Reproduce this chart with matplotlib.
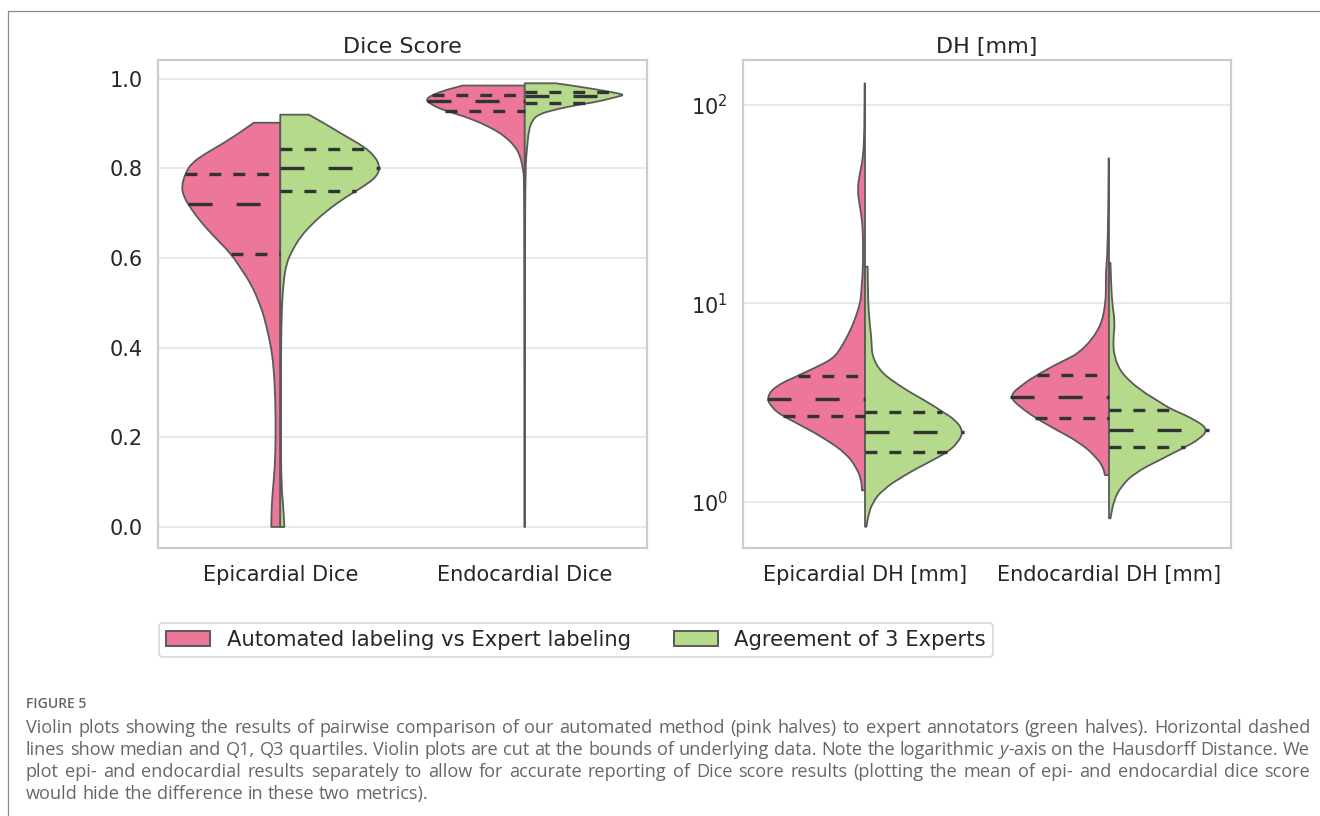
import numpy as np
import matplotlib
matplotlib.use("Agg")
import matplotlib.pyplot as plt
from matplotlib.patches import PathPatch, Patch
from matplotlib.path import Path
from matplotlib.lines import Line2D
from matplotlib.ticker import NullFormatter, LogLocator

plt.rcParams["lines.scale_dashes"] = False
plt.rcParams["font.family"] = ["DejaVu Sans"]

W, H, DPI = 1320, 816, 100

# ---------------- data ----------------
dice_categories = ["Epicardial Dice", "Endocardial Dice"]
dh_categories = ["Epicardial DH [mm]", "Endocardial DH [mm]"]
series_names = ["Automated labeling vs Expert labeling", "Agreement of 3 Experts"]
panel_titles = ["Dice Score", "DH [mm]"]

# violin half profiles: values and relative density (1 = widest)
dice_epi_auto_y = [0.000, 0.045, 0.090, 0.135, 0.200, 0.283, 0.358, 0.400, 0.432, 0.469, 0.484,
                   0.507, 0.529, 0.558, 0.574, 0.609, 0.648, 0.678, 0.708, 0.737, 0.761, 0.790,
                   0.812, 0.834, 0.864, 0.902]
dice_epi_auto_d = [0.090, 0.087, 0.071, 0.054, 0.046, 0.049, 0.066, 0.092, 0.122, 0.163, 0.184,
                   0.224, 0.265, 0.337, 0.388, 0.490, 0.663, 0.786, 0.888, 0.969, 0.990, 0.949,
                   0.888, 0.745, 0.510, 0.265]
dice_epi_exp_y = [0.000, 0.045, 0.090, 0.200, 0.400, 0.484, 0.544, 0.588, 0.618, 0.648, 0.678,
                  0.708, 0.737, 0.760, 0.782, 0.804, 0.827, 0.849, 0.871, 0.901, 0.920]
dice_epi_exp_d = [0.041, 0.031, 0.012, 0.006, 0.008, 0.015, 0.031, 0.061, 0.122, 0.204, 0.327,
                  0.480, 0.663, 0.837, 0.969, 1.000, 0.949, 0.837, 0.663, 0.439, 0.286]
dice_endo_auto_y = [0.000, 0.300, 0.600, 0.775, 0.797, 0.827, 0.849, 0.871, 0.886, 0.901, 0.916,
                    0.931, 0.942, 0.953, 0.964, 0.975, 0.985]
dice_endo_auto_d = [0.002, 0.002, 0.003, 0.005, 0.016, 0.044, 0.095, 0.197, 0.299, 0.435, 0.602,
                    0.827, 0.929, 0.996, 0.929, 0.792, 0.622]
dice_endo_exp_y = [0.000, 0.300, 0.600, 0.800, 0.849, 0.886, 0.908, 0.921, 0.931, 0.942, 0.949,
                   0.960, 0.964, 0.968, 0.975, 0.983, 0.990]
dice_endo_exp_d = [0.002, 0.002, 0.003, 0.006, 0.024, 0.041, 0.076, 0.143, 0.296, 0.531, 0.735,
                   0.926, 1.000, 0.926, 0.755, 0.531, 0.313]

dh_epi_auto_y = [1.14, 1.285, 1.50, 1.75, 2.05, 2.39, 2.70, 2.95, 3.32, 3.80, 4.31, 4.89, 5.38,
                 6.53, 7.95, 10.0, 11.7, 14.7, 20.8, 25.4, 30.6, 37.2, 45.4, 54.7, 74.8, 128.6]
dh_epi_auto_d = [0.031, 0.036, 0.092, 0.194, 0.388, 0.622, 0.827, 0.929, 0.990, 0.908, 0.673,
                 0.439, 0.296, 0.194, 0.112, 0.046, 0.036, 0.020, 0.020, 0.026, 0.051, 0.077,
                 0.051, 0.017, 0.006, 0.004]
dh_epi_exp_y = [0.747, 0.839, 0.98, 1.14, 1.34, 1.56, 1.77, 1.97, 2.25, 2.58, 2.84, 3.01, 3.65,
                4.44, 5.38, 6.53, 7.95, 10.0, 15.3]
dh_epi_exp_d = [0.015, 0.031, 0.071, 0.173, 0.378, 0.622, 0.827, 0.929, 0.990, 0.908, 0.776,
                0.704, 0.408, 0.163, 0.071, 0.066, 0.046, 0.031, 0.026]
dh_endo_auto_y = [1.36, 1.50, 1.68, 1.97, 2.30, 2.65, 3.01, 3.38, 3.80, 4.44, 5.18, 5.60, 6.53,
                  7.93, 10.0, 11.7, 14.7, 17.5, 33.0, 53.8]
dh_endo_auto_d = [0.041, 0.061, 0.133, 0.286, 0.531, 0.745, 0.898, 1.000, 0.898, 0.694, 0.439,
                  0.306, 0.173, 0.071, 0.036, 0.031, 0.031, 0.015, 0.006, 0.004]
dh_endo_exp_y = [0.824, 1.02, 1.19, 1.39, 1.62, 1.88, 2.05, 2.30, 2.58, 2.90, 3.01, 3.65, 4.44,
                 5.38, 6.53, 7.95, 10.0, 13.1, 16.0]
dh_endo_exp_d = [0.015, 0.051, 0.122, 0.255, 0.510, 0.765, 0.898, 1.000, 0.867, 0.643, 0.582,
                 0.306, 0.122, 0.051, 0.041, 0.061, 0.031, 0.020, 0.015]

# quartiles (Q1, median, Q3)
dice_epi_auto_q = [0.609, 0.721, 0.788]
dice_epi_exp_q = [0.750, 0.801, 0.844]
dice_endo_auto_q = [0.929, 0.950, 0.964]
dice_endo_exp_q = [0.946, 0.961, 0.970]
dh_epi_auto_q = [2.69, 3.30, 4.31]
dh_epi_exp_q = [1.77, 2.25, 2.84]
dh_endo_auto_q = [2.65, 3.37, 4.34]
dh_endo_exp_q = [1.88, 2.30, 2.90]

caption_title = "FIGURE 5"
# words wrapped in _..._ are italic
caption_lines = [
    "Violin plots showing the results of pairwise comparison of our automated method (pink halves) to expert annotators (green halves). Horizontal dashed",
    "lines show median and Q1, Q3 quartiles. Violin plots are cut at the bounds of underlying data. Note the logarithmic _y_-axis on the Hausdorff Distance. We",
    "plot epi- and endocardial results separately to allow for accurate reporting of Dice score results (plotting the mean of epi- and endocardial dice score",
    "would hide the difference in these two metrics).",
]

# ---------------- style ----------------
PINK = "#ec7798"
GREEN = "#b5da8b"
EDGE = "#5a5a5a"
QCOL = "#333333"
GRID = "#e0e8f2"
SPINE = "#cccccc"
TXT = "#262626"
HALF = 0.408

fig = plt.figure(figsize=(W / DPI, H / DPI), dpi=DPI)
ax1 = fig.add_axes([158 / W, 1 - 548 / H, 489 / W, 488 / H])
ax2 = fig.add_axes([743 / W, 1 - 548 / H, 488 / W, 488 / H])


def outline_path(pos, xs, ys):
    """Closed half-violin path; the outline is rendered with quadratic smoothing."""
    pts = list(zip(xs, ys))
    verts = [(pos, ys[0]), pts[0]]
    codes = [Path.MOVETO, Path.LINETO]
    mids = [((pts[i][0] + pts[i + 1][0]) / 2, (pts[i][1] + pts[i + 1][1]) / 2)
            for i in range(len(pts) - 1)]
    verts.append(mids[0]); codes.append(Path.LINETO)
    for i in range(1, len(pts) - 1):
        verts += [pts[i], mids[i]]
        codes += [Path.CURVE3, Path.CURVE3]
    verts += [pts[-1], (pos, ys[-1]), (pos, ys[0])]
    codes += [Path.LINETO, Path.LINETO, Path.CLOSEPOLY]
    return Path(verts, codes)


def draw_half(ax, pos, side, ys, dens, qs, color, log=False):
    ys = np.asarray(ys, float)
    d = np.asarray(dens, float) * HALF
    xs = pos + side * d
    ax.add_patch(PathPatch(outline_path(pos, xs, ys), facecolor=color, edgecolor=EDGE,
                           lw=1.3, joinstyle="round", zorder=2))
    for i, q in enumerate(qs):
        if log:
            w = np.interp(np.log10(q), np.log10(ys), dens) * HALF
        else:
            w = np.interp(q, ys, dens) * HALF
        x0, x1 = sorted([pos, pos + side * w])
        ls = (0, (17.3, 17.3)) if i == 1 else (0, (8.6, 8.6))
        ax.plot([x0, x1], [q, q], color=QCOL, lw=2.4, ls=ls,
                dash_capstyle="butt", zorder=3)


draw_half(ax1, 0, -1, dice_epi_auto_y, dice_epi_auto_d, dice_epi_auto_q, PINK)
draw_half(ax1, 0, 1, dice_epi_exp_y, dice_epi_exp_d, dice_epi_exp_q, GREEN)
draw_half(ax1, 1, -1, dice_endo_auto_y, dice_endo_auto_d, dice_endo_auto_q, PINK)
draw_half(ax1, 1, 1, dice_endo_exp_y, dice_endo_exp_d, dice_endo_exp_q, GREEN)

ax2.set_yscale("log")
draw_half(ax2, 0, -1, dh_epi_auto_y, dh_epi_auto_d, dh_epi_auto_q, PINK, log=True)
draw_half(ax2, 0, 1, dh_epi_exp_y, dh_epi_exp_d, dh_epi_exp_q, GREEN, log=True)
draw_half(ax2, 1, -1, dh_endo_auto_y, dh_endo_auto_d, dh_endo_auto_q, PINK, log=True)
draw_half(ax2, 1, 1, dh_endo_exp_y, dh_endo_exp_d, dh_endo_exp_q, GREEN, log=True)

ax1.set_ylim(-0.047, 1.042)
ax1.set_yticks([0.0, 0.2, 0.4, 0.6, 0.8, 1.0])
ax2.set_ylim(10 ** -0.234, 10 ** 2.227)
ax2.yaxis.set_major_locator(LogLocator(base=10, numticks=10))
ax2.yaxis.set_minor_formatter(NullFormatter())

for ax, cats, title in [(ax1, dice_categories, panel_titles[0]), (ax2, dh_categories, panel_titles[1])]:
    ax.set_xlim(-0.5, 1.5)
    ax.set_xticks([0, 1])
    ax.set_xticklabels(cats)
    ax.set_facecolor("white")
    ax.grid(axis="y", which="major", color=GRID, lw=1.3)
    ax.grid(axis="x", visible=False)
    ax.set_axisbelow(True)
    for s in ax.spines.values():
        s.set_color(SPINE)
        s.set_linewidth(1.6)
    ax.tick_params(axis="both", which="both", length=0, labelsize=15, colors=TXT)
    ax.tick_params(axis="y", pad=11)
    ax.tick_params(axis="x", pad=12)
    ax.set_title(title, fontsize=16, color=TXT, pad=5)

handles = [Patch(facecolor=PINK, edgecolor=EDGE, lw=1.4, label=series_names[0]),
           Patch(facecolor=GREEN, edgecolor=EDGE, lw=1.4, label=series_names[1])]
leg = fig.legend(handles=handles, loc="center", bbox_to_anchor=(576 / W, 1 - 640 / H), ncol=2,
                 fontsize=15.2, frameon=True, handlelength=2.07, handleheight=0.72,
                 handletextpad=0.8, columnspacing=2.05, borderpad=0.33, fancybox=True)
leg.get_frame().set_edgecolor("#cccccc")
leg.get_frame().set_linewidth(1.2)
for t in leg.get_texts():
    t.set_color(TXT)

# frame
fig.add_artist(Line2D([7.5 / W, 7.5 / W], [0, 1 - 10.5 / H], transform=fig.transFigure,
                      color="#8c8c8c", lw=0.9))
fig.add_artist(Line2D([7.5 / W, 1], [1 - 10.5 / H, 1 - 10.5 / H], transform=fig.transFigure,
                      color="#8c8c8c", lw=0.9))

# caption (justified lines)
CAP = "#666666"
CAPFONT = ["Open Sans", "DejaVu Sans"]
fig.text(26 / W, 1 - 704 / H, caption_title, fontsize=10, fontweight="semibold", color=CAP,
         family=CAPFONT, va="center", ha="left")

renderer = fig.canvas.get_renderer()


def seg_width(text, size, italic=False):
    t = fig.text(0, 0, text, fontsize=size, family=CAPFONT, style="italic" if italic else "normal")
    w = t.get_window_extent(renderer).width
    t.remove()
    return w


def parse(line):
    words = []
    for word in line.split(" "):
        parts = word.split("_")
        words.append([(p, k % 2 == 1) for k, p in enumerate(parts) if p])
    return words


def natural(words, size):
    ws = [sum(seg_width(p, size, it) for p, it in wd) for wd in words]
    sp = seg_width("a a", size) - seg_width("aa", size)
    return ws, sp


LEFT, TARGET = 26.0, 1284.0
base = 11.0
widths = []
for line in caption_lines[:3]:
    ws, sp = natural(parse(line), base)
    widths.append(sum(ws) + sp * (len(ws) - 1))
capsize = base * (TARGET - 4) / max(widths)

line_y = [728, 750, 772, 794]
for li, (ly, line) in enumerate(zip(line_y, caption_lines)):
    words = parse(line)
    ws, sp = natural(words, capsize)
    if li < 3:
        gap = (TARGET - sum(ws)) / (len(ws) - 1)
    else:
        gap = sp
    x = LEFT
    for wd, wlen in zip(words, ws):
        xx = x
        for p, it in wd:
            fig.text(xx / W, 1 - ly / H, p, fontsize=capsize, color=CAP, family=CAPFONT,
                     va="center", ha="left", style="italic" if it else "normal")
            xx += seg_width(p, capsize, it)
        x += wlen + gap

fig.savefig("out.png", dpi=DPI)
